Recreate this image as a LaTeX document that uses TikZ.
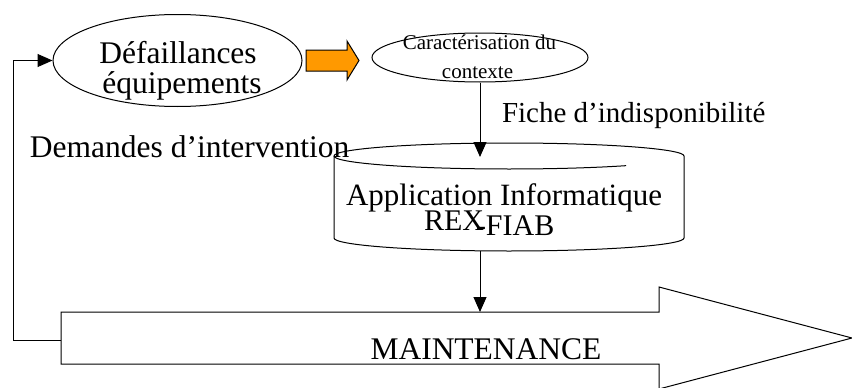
\documentclass[tikz,border=0pt]{standalone}
\usepackage{fontspec}
\setmainfont{Liberation Serif}
\usetikzlibrary{arrows.meta,shapes.geometric}
\definecolor{arrorange}{HTML}{FF9900}
\tikzset{
  outline/.style={draw=black, line width=1pt},
  arr/.style={draw=black, line width=1pt, -{Triangle[length=15pt,width=13pt]}},
  txt/.style={inner sep=0pt, outer sep=0pt, text=black},
  oval/.style={outline, ellipse, inner sep=0pt, fill=white}
}
\newcommand{\fs}[1]{\fontsize{#1}{#1}\selectfont}
\begin{document}
\begin{tikzpicture}[x=1pt,y=-1pt]
\useasboundingbox (0,0) rectangle (852,388);
\fill[white] (0,0) rectangle (852,388);

% big MAINTENANCE arrow
\draw[outline, fill=white] (61,312) -- (659,312) -- (659,287) -- (852,338)
  -- (659,389) -- (659,364) -- (61,364) -- cycle;
\coordinate (mleft) at (61,340);
\coordinate (mtop) at (480,312);
\node[txt, anchor=base] (mtext) at (486,359) {\fs{31.5}MAINTENANCE};

% ellipses
\node[oval, minimum width=249pt, minimum height=92pt] (e1) at (177.5,60.5) {};
\node[txt, anchor=base] (e1a) at (178,63) {\fs{31.5}Défaillances};
\node[txt, anchor=base] (e1b) at (182,93) {\fs{31.5}équipements};

\node[oval, minimum width=216pt, minimum height=49pt] (e2) at (480,57.5) {};
\node[txt, anchor=base] (e2a) at (479.5,49) {\fs{21}Caractérisation du};
\node[txt, anchor=base] (e2b) at (477.5,78) {\fs{21}contexte};

% orange block arrow
\draw[outline, fill=arrorange] (306,50) -- (347,50) -- (347,41) -- (359,60.5) -- (347,80) -- (347,71) -- (306,71) -- cycle;

% cylinder (stored data)
\draw[outline, fill=white] (334,156) arc[start angle=180, end angle=360, x radius=175, y radius=13]
  -- (684,238) arc[start angle=0, end angle=180, x radius=175, y radius=13] -- cycle;
\draw[outline] (334,156) arc[start angle=180, end angle=48, x radius=175, y radius=13];
\coordinate (cyltop) at (480,157);
\coordinate (cylbot) at (480,251);
\node[txt, anchor=base] (app) at (504,205) {\fs{31}Application Informatique};
\node[txt, anchor=base west] (rex) at (424,230) {\fs{30}REX};
\node[txt, anchor=base west] (fiab) at (476,235) {\fs{30}-FIAB};

% labels
\node[txt, anchor=base west] (fiche) at (502,122) {\fs{29}Fiche d’indisponibilité};
\node[txt, anchor=base west] (dem) at (30,157) {\fs{31.5}Demandes d’intervention};

% connectors
\draw[arr] (e2.south) -- (cyltop);
\draw[arr] (cylbot) -- (mtop);
\coordinate (fb) at (13,340);
\draw[arr] (mleft) -- (fb) |- (e1.west);
\end{tikzpicture}
\end{document}
